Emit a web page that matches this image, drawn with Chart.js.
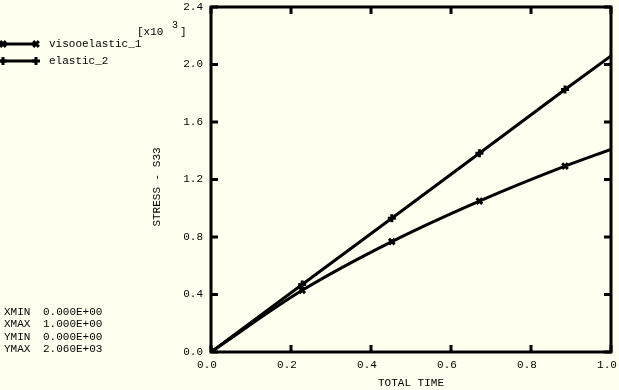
<!DOCTYPE html>
<html>
<head>
<meta charset="utf-8">
<script src="https://cdn.jsdelivr.net/npm/chart.js@4/dist/chart.umd.min.js"></script>
<style>
  html, body { margin: 0; padding: 0; background: #FFFFF0; }
  canvas { display: block; }
</style>
</head>
<body>
<canvas id="c" width="619" height="390"></canvas>
<script>
// ---- data (stress in units of 10^3) ----
const seriesNames = ["visooelastic_1", "elastic_2"];
const totalTime   = [0, 0.228, 0.452, 0.671, 0.885, 1.0];
const viscoStress = [0, 0.429, 0.768, 1.05, 1.293, 1.41];
const elasticStress = [0, 0.47, 0.93, 1.383, 1.826, 2.06];
const xTicks = [0.0, 0.2, 0.4, 0.6, 0.8, 1.0];
const yTicks = [0.0, 0.4, 0.8, 1.2, 1.6, 2.0, 2.4];
const infoLabels = ["XMIN", "XMAX", "YMIN", "YMAX"];
const infoValues = ["0.000E+00", "1.000E+00", "0.000E+00", "2.060E+03"];
const xTitle = "TOTAL TIME";
const yTitle = "STRESS - S33";

const FONT = "Liberation Mono";
const INK = "#000000";

function pts(xs, ys) { return xs.map((x, i) => ({ x: x, y: ys[i] })); }

const decor = {
  id: "decor",
  beforeDraw(chart) {
    const ctx = chart.ctx;
    ctx.save();
    ctx.fillStyle = "#FFFFF0";
    ctx.fillRect(0, 0, chart.width, chart.height);
    ctx.restore();
  },
  afterDraw(chart) {
    const ctx = chart.ctx;
    const a = chart.chartArea;
    const xs = chart.scales.x, ys = chart.scales.y;
    ctx.save();
    ctx.strokeStyle = INK;
    ctx.lineWidth = 3;
    // frame
    ctx.beginPath();
    ctx.rect(a.left, a.top, a.right - a.left, a.bottom - a.top);
    ctx.stroke();
    // inward ticks
    const tl = 7;
    ctx.beginPath();
    xTicks.forEach(v => {
      const px = xs.getPixelForValue(v);
      ctx.moveTo(px, a.bottom); ctx.lineTo(px, a.bottom - tl);
      ctx.moveTo(px, a.top); ctx.lineTo(px, a.top + tl);
    });
    yTicks.forEach(v => {
      const py = ys.getPixelForValue(v);
      ctx.moveTo(a.left, py); ctx.lineTo(a.left + tl, py);
      ctx.moveTo(a.right, py); ctx.lineTo(a.right - tl, py);
    });
    ctx.stroke();

    ctx.fillStyle = INK;
    ctx.font = "11px '" + FONT + "'";
    ctx.textBaseline = "middle";
    // multiplier
    ctx.textAlign = "left";
    ctx.fillText("[x10", 137, 32);
    ctx.fillText("]", 180, 32);
    ctx.font = "10px '" + FONT + "'";
    ctx.fillText("3", 172, 25);
    ctx.font = "11px '" + FONT + "'";
    // x title
    ctx.textAlign = "center";
    ctx.fillText(xTitle, (a.left + a.right) / 2, 383);
    // y title
    ctx.save();
    ctx.translate(157, 187);
    ctx.rotate(-Math.PI / 2);
    ctx.fillText(yTitle, 0, 0);
    ctx.restore();
    // info block
    ctx.textAlign = "left";
    const infoY = [312, 324, 337, 349];
    infoLabels.forEach((t, i) => {
      ctx.fillText(t, 4, infoY[i]);
      ctx.fillText(infoValues[i], 43, infoY[i]);
    });
    // legend
    const legY = [44, 61];
    chart.data.datasets.forEach((ds, i) => {
      const y = legY[i];
      ctx.strokeStyle = INK;
      ctx.lineWidth = 3;
      ctx.beginPath();
      ctx.moveTo(0, y); ctx.lineTo(37, y);
      ctx.stroke();
      [3, 36].forEach(x => {
        Chart.helpers.drawPoint(ctx, {
          pointStyle: ds.pointStyle, radius: ds.legendRadius, rotation: 0, borderWidth: 3
        }, x, y);
      });
      ctx.fillStyle = INK;
      ctx.fillText(ds.label, 49, y);
    });
    ctx.restore();
  }
};

new Chart(document.getElementById("c"), {
  type: "line",
  data: {
    datasets: [
      {
        label: seriesNames[0],
        data: pts(totalTime, viscoStress),
        borderColor: INK, backgroundColor: INK,
        borderWidth: 3,
        cubicInterpolationMode: "monotone",
        pointStyle: "crossRot",
        pointRadius: [4, 4, 4, 4, 4, 0],
        pointBorderWidth: 3,
        legendRadius: 4
      },
      {
        label: seriesNames[1],
        data: pts(totalTime, elasticStress),
        borderColor: INK, backgroundColor: INK,
        borderWidth: 3,
        tension: 0,
        pointStyle: "cross",
        pointRadius: [4, 4, 4, 4, 4, 0],
        pointBorderWidth: 3,
        legendRadius: 4
      }
    ]
  },
  options: {
    responsive: false,
    animation: false,
    devicePixelRatio: 1,
    layout: { padding: { left: 151, right: 8, top: 5, bottom: 0 } },
    plugins: { legend: { display: false }, tooltip: { enabled: false } },
    scales: {
      x: {
        type: "linear", min: 0, max: 1,
        afterFit: s => { s.height = 38; s.paddingLeft = 0; s.paddingRight = 0; },
        afterBuildTicks: s => { s.ticks = xTicks.map(v => ({ value: v })); },
        grid: { drawOnChartArea: false, drawTicks: false },
        border: { display: false },
        ticks: {
          autoSkip: false, maxRotation: 0, padding: 6, color: INK, labelOffset: -4,
          font: { family: FONT, size: 11 },
          callback: v => Number(v).toFixed(1)
        }
      },
      y: {
        type: "linear", min: 0, max: 2.4,
        afterFit: s => { s.width = 60; s.paddingTop = 0; s.paddingBottom = 0; },
        afterBuildTicks: s => { s.ticks = yTicks.map(v => ({ value: v })); },
        grid: { drawOnChartArea: false, drawTicks: false },
        border: { display: false },
        ticks: {
          autoSkip: false, padding: 8, color: INK,
          font: { family: FONT, size: 11 },
          callback: v => Number(v).toFixed(1)
        }
      }
    }
  },
  plugins: [decor]
});
</script>
</body>
</html>
